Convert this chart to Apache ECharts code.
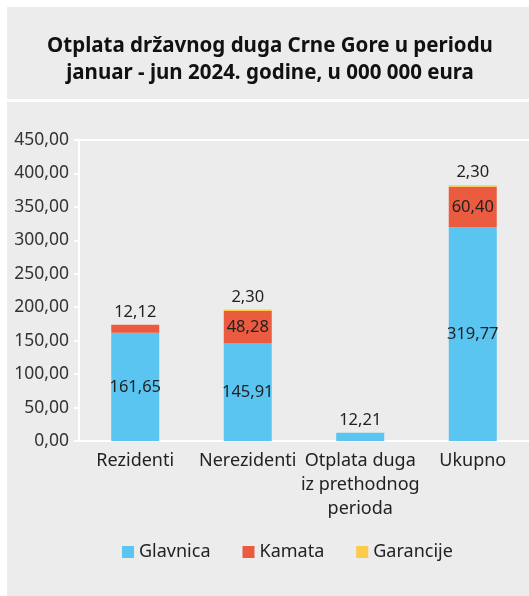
<!DOCTYPE html>
<html><head><meta charset="utf-8">
<script src="https://cdn.jsdelivr.net/npm/echarts@6/dist/echarts.min.js"></script>
<style>html,body{margin:0;padding:0;background:#fff}#c{width:529px;height:596px}</style>
</head><body><div id="c"></div>
<script>
const categories = ['Rezidenti', 'Nerezidenti', 'Otplata duga\niz prethodnog\nperioda', 'Ukupno'];
const glavnica = [161.65, 145.91, 12.21, 319.77];
const kamata = [12.12, 48.28, 0, 60.40];
const garancije = [0, 2.30, 0, 2.30];
const yTicks = [0, 50, 100, 150, 200, 250, 300, 350, 400, 450];

const font = '"Noto Sans", sans-serif';
const fmt = v => v.toFixed(2).replace('.', ',');
const chart = echarts.init(document.getElementById('c'));
const lbl = {show: true, fontFamily: font, fontSize: 16.5, color: '#222', formatter: p => fmt(p.value)};

chart.setOption({
  backgroundColor: '#fff',
  animation: false,
  graphic: [
    {type: 'rect', shape: {x: 7, y: 7, width: 530, height: 92}, style: {fill: '#ececec'}, z: -10},
    {type: 'rect', shape: {x: 7, y: 102, width: 530, height: 500}, style: {fill: '#ececec'}, z: -10}
  ],
  title: {
    text: 'Otplata državnog duga Crne Gore u periodu\njanuar - jun 2024. godine, u 000 000 eura',
    left: 265, top: 28, textAlign: 'center',
    textStyle: {fontFamily: font, fontWeight: 'bold', fontSize: 20.5, lineHeight: 27, color: '#111'}
  },
  legend: {
    left: 117, top: 538, itemWidth: 12, itemGap: 32, itemHeight: 12,
    icon: 'rect',
    textStyle: {fontFamily: font, fontSize: 18, color: '#222'},
    data: ['Glavnica', 'Kamata', 'Garancije']
  },
  grid: {left: 79, top: 140, width: 454, height: 301},
  xAxis: [{
    type: 'category', data: yTicks.length ? categories : [],
    axisLine: {lineStyle: {color: '#fff', width: 2}},
    axisTick: {show: false},
    axisLabel: {fontFamily: font, fontSize: 18, color: '#222', lineHeight: 24, margin: 8, interval: 0}
  }, {
    type: 'category', data: categories, position: 'top',
    axisLine: {lineStyle: {color: '#fff', width: 2}},
    axisTick: {show: false}, axisLabel: {show: false}
  }],
  yAxis: {
    type: 'value', min: yTicks[0], max: yTicks[yTicks.length - 1], interval: 50,
    axisLine: {show: true, lineStyle: {color: '#fff', width: 2}},
    axisTick: {show: true, length: 5, lineStyle: {color: '#fff', width: 2}},
    splitLine: {show: false},
    axisLabel: {fontFamily: font, fontSize: 17.5, color: '#333', margin: 10, formatter: v => fmt(v)}
  },
  series: [
    {name: 'Glavnica', type: 'bar', stack: 's', barWidth: 48, itemStyle: {color: '#5bc5f2'},
      data: glavnica.map((v, i) => ({value: v, label: i === 2 ? {position: 'top', distance: 4} : {position: 'inside'}})),
      label: lbl},
    {name: 'Kamata', type: 'bar', stack: 's', itemStyle: {color: '#eb5b40'},
      data: kamata.map((v, i) => ({value: v, label: v === 0 ? {show: false} : (i === 0 ? {position: 'top', distance: 4} : {position: 'inside'})})),
      label: lbl},
    {name: 'Garancije', type: 'bar', stack: 's', itemStyle: {color: '#fccb4a'},
      data: garancije.map(v => ({value: v, label: v === 0 ? {show: false} : {position: 'top', distance: 4}})),
      label: lbl}
  ]
});
</script></body></html>
